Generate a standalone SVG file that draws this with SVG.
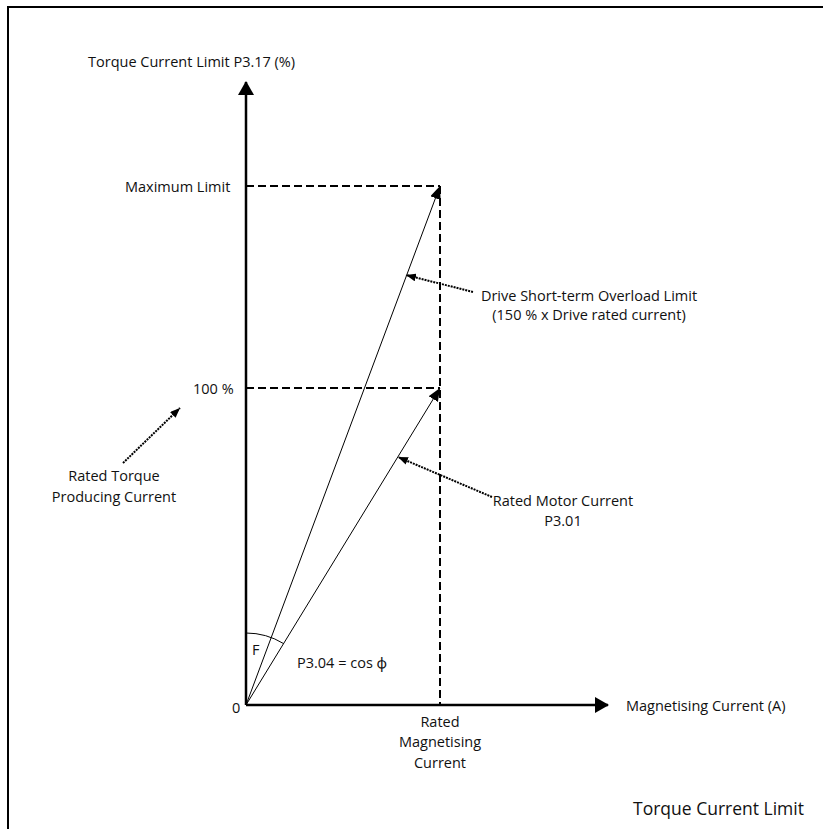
<svg xmlns="http://www.w3.org/2000/svg" width="823" height="829" viewBox="0 0 823 829">
<style>
text{font-family:"Open Sans","Noto Sans","DejaVu Sans",sans-serif;font-size:14.5px;fill:#111}
.axis{stroke:#000;stroke-width:2.5;fill:none}
.dash{stroke:#000;stroke-width:2;stroke-dasharray:8 4;fill:none}
.vec{stroke:#000;stroke-width:1;fill:none}
.ptr{stroke:#000;stroke-width:2;stroke-dasharray:2 1;fill:none}
</style>
<defs>
<marker id="ah" viewBox="0 0 14 16" refX="13" refY="8" markerWidth="14" markerHeight="16" markerUnits="userSpaceOnUse" orient="auto"><path d="M0,0 L14,8 L0,16 Z" fill="#000"/></marker>
<marker id="vh" viewBox="0 0 13 11" refX="13" refY="5.5" markerWidth="13" markerHeight="11" markerUnits="userSpaceOnUse" orient="auto"><path d="M0,0 L13,5.5 L0,11 Z" fill="#000"/></marker>
<marker id="ph" viewBox="0 0 10 8" refX="10" refY="4" markerWidth="10" markerHeight="8" markerUnits="userSpaceOnUse" orient="auto"><path d="M0,0 L10,4 L0,8 Z" fill="#000"/></marker>
</defs>
<path d="M8,829 V7 H823" fill="none" stroke="#000" stroke-width="2"/>
<g id="connectors">
<line class="axis" x1="246" y1="705" x2="246" y2="82" marker-end="url(#ah)"/>
<line class="axis" x1="246" y1="705" x2="608" y2="705" marker-end="url(#ah)"/>
<line class="dash" x1="246" y1="186" x2="440" y2="186"/>
<line class="dash" x1="246" y1="388" x2="440" y2="388"/>
<line class="dash" x1="440" y1="186" x2="440" y2="705"/>
<line class="vec" x1="246" y1="705" x2="440" y2="186" marker-end="url(#vh)"/>
<line class="vec" x1="246" y1="705" x2="440" y2="388" marker-end="url(#vh)"/>
<path class="vec" d="M246,633 A72,72 0 0 1 283.6,643.6"/>
<line class="ptr" x1="473" y1="292" x2="406" y2="275" marker-end="url(#ph)"/>
<line class="ptr" x1="492" y1="497" x2="398" y2="457" marker-end="url(#ph)"/>
<line class="ptr" x1="123" y1="463" x2="180" y2="408" marker-end="url(#ph)"/>
</g>
<g id="y-axis-label"><text x="88" y="67">Torque Current Limit P3.17 (%)</text></g>
<g id="max-limit"><text x="125" y="192">Maximum Limit</text></g>
<g id="pct100"><text x="193" y="394">100 %</text></g>
<g id="rated-torque"><text x="114" y="481" text-anchor="middle">Rated Torque</text><text x="114" y="502" text-anchor="middle">Producing Current</text></g>
<g id="overload"><text x="589" y="301" text-anchor="middle">Drive Short-term Overload Limit</text><text x="589" y="320" text-anchor="middle">(150 % x Drive rated current)</text></g>
<g id="rated-motor"><text x="563" y="506" text-anchor="middle">Rated Motor Current</text><text x="563" y="526" text-anchor="middle">P3.01</text></g>
<g id="angle"><text x="252" y="655">F</text><text x="297" y="668">P3.04 = cos ϕ</text></g>
<g id="origin"><text x="232" y="713">0</text></g>
<g id="rated-mag"><text x="440" y="727" text-anchor="middle">Rated</text><text x="440" y="747" text-anchor="middle">Magnetising</text><text x="440" y="768" text-anchor="middle">Current</text></g>
<g id="x-axis-label"><text x="626" y="711">Magnetising Current (A)</text></g>
<g id="title"><text x="633" y="815" style="font-size:17.5px">Torque Current Limit</text></g>
</svg>
